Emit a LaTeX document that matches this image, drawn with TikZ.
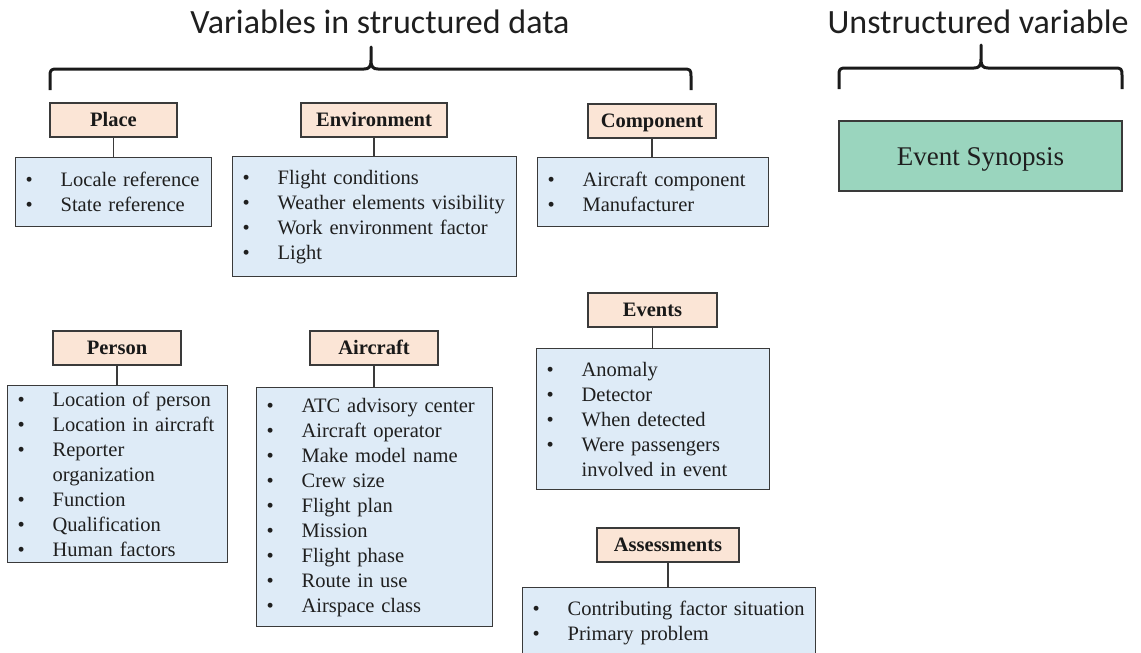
\documentclass[tikz,border=0pt]{standalone}
\usepackage{fontspec}
\setmainfont{Liberation Serif}
\newfontfamily\titlefont{Carlito}
\definecolor{hdrfill}{RGB}{251,229,214}
\definecolor{listfill}{RGB}{222,235,247}
\definecolor{synfill}{RGB}{154,213,190}
\definecolor{edgecol}{RGB}{58,58,58}
\definecolor{bracecol}{RGB}{26,26,26}
\newcommand\itm[1]{\makebox[35pt][l]{\textbullet}#1}
\newcommand\cnt[1]{\hspace*{35pt}#1}
\begin{document}
\begin{tikzpicture}[x=1pt,y=-1pt,
  hdr/.style={draw=edgecol, fill=hdrfill, line width=1.3pt, inner sep=0pt,
    minimum height=34pt, text height=15pt, text depth=2pt, text=black!90,
    font=\fontsize{20.5}{25}\selectfont\bfseries},
  lbox/.style={draw=edgecol, fill=listfill, line width=1.3pt, anchor=north west,
    inner xsep=10pt, inner ysep=0pt, align=left, text=black!88,
    font=\fontsize{20.5}{25}\selectfont},
  conn/.style={draw=edgecol, line width=1.3pt},
  brace/.style={draw=bracecol, line width=3pt, line join=round},
  ttl/.style={font=\fontsize{34}{40}\titlefont, text=black!88, anchor=base, inner sep=0pt}]
\useasboundingbox (0,0) rectangle (1141,653);
\clip (0,0) rectangle (1141,653);

% titles
\node[ttl] (t1) at (380,33) {Variables in structured data};
\node[ttl] (t2) at (978,33) {Unstructured variable};

% braces
\draw[brace] (50,90) -- (50,76) .. controls (50,70) and (51,69) .. (57,69) -- (364,69)
  .. controls (369,69) and (371,67) .. (371,60) -- (371,47) -- (371,60)
  .. controls (371,67) and (373,69) .. (378,69) -- (684,69)
  .. controls (690,69) and (691,70) .. (691,76) -- (691,90);
\draw[brace] (839,89) -- (839,75) .. controls (839,69) and (840,68) .. (846,68) -- (974,68)
  .. controls (979,68) and (981,66) .. (981,59) -- (981,45) -- (981,59)
  .. controls (981,66) and (983,68) .. (988,68) -- (1115,68)
  .. controls (1121,68) and (1122,69) .. (1122,75) -- (1122,89);

% unstructured
\node[draw=edgecol, fill=synfill, line width=1.3pt, minimum width=283pt, minimum height=70pt,
  inner sep=0pt, text height=19pt, text depth=1pt, text=black!88,
  font=\fontsize{27}{32}\selectfont] (syn) at (980.5,156) {Event Synopsis};

% Place
\node[hdr, minimum width=127pt] (ph) at (113.5,120) {Place};
\node[lbox, minimum height=69pt, text width=176pt] (pl) at (15,157)
  {\itm{Locale reference}\\ \itm{State reference}};
\draw[conn] (ph.south) -- (ph.south |- pl.north);

% Environment
\node[hdr, minimum width=146pt] (eh) at (374,120) {Environment};
\node[lbox, minimum height=120pt, text width=264pt] (el) at (232,156)
  {\itm{Flight conditions}\\ \itm{Weather elements visibility}\\ \itm{Work environment factor}\\ \itm{Light}};
\draw[conn] (eh.south) -- (eh.south |- el.north);

% Component
\node[hdr, minimum width=128pt] (ch) at (652,121) {Component};
\node[lbox, minimum height=69pt, text width=211pt] (cl) at (537,157)
  {\itm{Aircraft component}\\ \itm{Manufacturer}};
\draw[conn] (ch.south) -- (ch.south |- cl.north);

% Person
\node[hdr, minimum width=128pt] (peh) at (117,348) {Person};
\node[lbox, minimum height=177pt, text width=200pt] (pel) at (7,385)
  {\itm{Location of person}\\ \itm{Location in aircraft}\\ \itm{Reporter}\\ \cnt{organization}\\
   \itm{Function}\\ \itm{Qualification}\\ \itm{Human factors}};
\draw[conn] (peh.south) -- (peh.south |- pel.north);

% Aircraft
\node[hdr, minimum width=128pt] (ah) at (374,348) {Aircraft};
\node[lbox, minimum height=239pt, text width=216pt] (al) at (256,387)
  {\itm{ATC advisory center}\\ \itm{Aircraft operator}\\ \itm{Make model name}\\ \itm{Crew size}\\
   \itm{Flight plan}\\ \itm{Mission}\\ \itm{Flight phase}\\ \itm{Route in use}\\ \itm{Airspace class}};
\draw[conn] (ah.south) -- (ah.south |- al.north);

% Events
\node[hdr, minimum width=129pt] (evh) at (652.5,310) {Events};
\node[lbox, minimum height=141pt, text width=213pt] (evl) at (536,348)
  {\itm{Anomaly}\\ \itm{Detector}\\ \itm{When detected}\\ \itm{Were passengers}\\ \cnt{involved in event}};
\draw[conn] (evh.south) -- (evh.south |- evl.north);

% Assessments
\node[hdr, minimum width=142pt] (ash) at (668,545) {Assessments};
\node[lbox, minimum height=71pt, text width=273pt] (asl) at (522,587)
  {\itm{Contributing factor situation}\\ \itm{Primary problem}};
\draw[conn] (ash.south) -- (ash.south |- asl.north);
\end{tikzpicture}
\end{document}
